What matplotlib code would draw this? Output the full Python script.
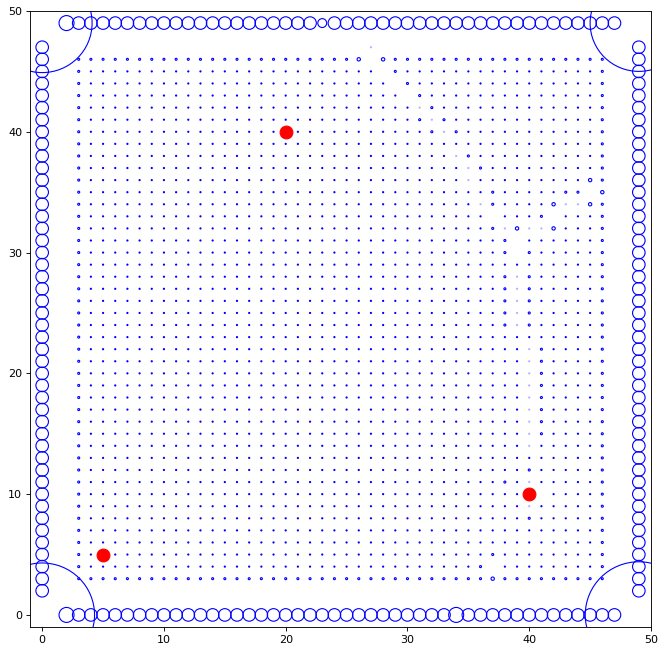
import matplotlib
matplotlib.use("Agg")
import matplotlib.pyplot as plt
from matplotlib.patches import Circle

# border ring of obstacles
border_pos = list(range(2, 48))
border_big = [(2, 49), (2, 0), (34, 0)]
border_small = [(23, 49)]

# corner arcs: centre x, centre y, radius
arc_x = [0, 0, 49, 49]
arc_y = [0, 49, 49, 0]
arc_r = [4.3, 4.1, 4.0, 4.4]

# inner grid of field points
grid_x = list(range(3, 47))
grid_y = list(range(3, 47))

missing = [(27, 46), (28, 45), (29, 44), (30, 43), (45, 35), (37, 33), (42, 33),
           (39, 31), (39, 30), (41, 10), (37, 4)]
faint = [(27, 47), (31, 42), (32, 41), (33, 40), (34, 38), (35, 37), (35, 36),
         (36, 34), (43, 34), (44, 34), (38, 32), (40, 32), (41, 32),
         (39, 28), (39, 27), (39, 26), (39, 25), (39, 24),
         (40, 22), (40, 21), (40, 20), (40, 19), (40, 18), (40, 17), (40, 16),
         (40, 15), (40, 14), (40, 11), (40, 9)]
big = [(29, 45), (30, 44), (31, 43), (31, 41), (32, 42), (32, 40), (33, 41),
       (34, 40), (35, 38), (36, 37), (37, 35), (43, 35), (44, 35), (37, 34),
       (41, 33), (37, 32), (38, 31), (38, 30), (40, 30),
       (38, 28), (38, 27), (38, 26), (38, 25), (38, 24),
       (40, 28), (40, 27), (40, 26), (40, 25), (40, 24),
       (41, 22), (41, 21), (41, 20), (41, 19), (41, 18), (41, 17), (41, 16),
       (41, 15), (38, 11), (40, 12), (40, 8), (37, 5), (36, 4)]
rings = [(26, 46), (28, 46), (45, 36), (46, 35), (42, 34), (45, 34), (39, 32),
         (42, 32), (37, 3)]

# goals / agents
red_x = [20, 40, 5]
red_y = [40, 10, 5]

fig = plt.figure(figsize=(8.3, 8.1625), dpi=80)
ax = fig.add_axes([30 / 664, 26 / 653, 621 / 664, 616 / 653])

# border circles
bx, by, bs = [], [], []
for p in border_pos:
    for pt in [(p, 49), (p, 0), (0, p), (49, p)]:
        bx.append(pt[0])
        by.append(pt[1])
        if pt in border_big:
            bs.append(13.5 ** 2)
        elif pt in border_small:
            bs.append(8 ** 2)
        else:
            bs.append(11.3 ** 2)
ax.scatter(bx, by, s=bs, facecolors='none', edgecolors='blue', linewidths=1)

for cx, cy, r in zip(arc_x, arc_y, arc_r):
    ax.add_patch(Circle((cx, cy), r, fill=False, edgecolor='blue', linewidth=1))

# field points
gx, gy, gs, gc = [], [], [], []
for x in grid_x:
    for y in grid_y:
        if (x, y) in missing:
            continue
        edge = x in (grid_x[0], grid_x[-1]) or y in (grid_y[0], grid_y[-1])
        if (x, y) in rings:
            size, alpha = 3.0, 1.0
        elif (x, y) in big:
            size, alpha = 1.8, 1.0
        elif (x, y) in faint:
            size, alpha = 1.0, 0.3
        elif edge:
            size, alpha = 1.8, 1.0
        else:
            size, alpha = 1.0, 1.0
        gx.append(x)
        gy.append(y)
        gs.append(size ** 2)
        gc.append((0, 0, 1, alpha))
for fx, fy in faint:
    if fx not in grid_x or fy not in grid_y:
        gx.append(fx)
        gy.append(fy)
        gs.append(1.0)
        gc.append((0, 0, 1, 0.3))
ax.scatter(gx, gy, s=gs, facecolors='none', edgecolors=gc, linewidths=1)

ax.scatter(red_x, red_y, s=11.5 ** 2, color='red', zorder=3)

ax.set_xlim(-1, 50)
ax.set_ylim(-1, 50)
ax.set_xticks(range(0, 51, 10))
ax.set_yticks(range(0, 51, 10))

plt.savefig('out.png', dpi=80)
